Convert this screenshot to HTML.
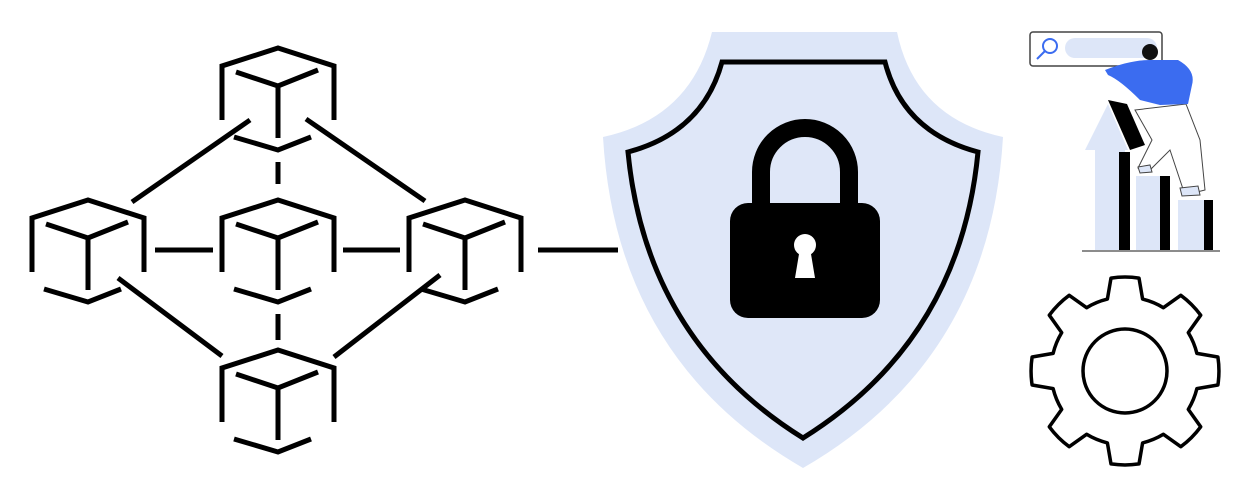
<!DOCTYPE html>
<html><head><meta charset="utf-8"><style>html,body{margin:0;padding:0;background:#fff}svg{display:block}</style></head>
<body>
<svg id="s" width="1250" height="500" viewBox="0 0 1250 500" xmlns="http://www.w3.org/2000/svg">
<defs>
<g id="cube" fill="none" stroke="#000" stroke-width="5" stroke-linejoin="miter">
<polyline points="-56,72 -56,18 0,0 56,18 56,72"/>
<polyline points="-42,24 0,38 40,22"/>
<line x1="0" y1="38" x2="0" y2="90"/>
<polyline points="-44,89 0,102 33,89"/>
</g>
</defs>
<use href="#cube" x="278" y="48"/>
<use href="#cube" x="88" y="200"/>
<use href="#cube" x="278" y="200"/>
<use href="#cube" x="465" y="200"/>
<use href="#cube" x="278" y="350"/>
<g stroke="#000" stroke-width="5" fill="none">
<line x1="132" y1="202" x2="250" y2="120"/>
<line x1="306" y1="119" x2="425" y2="201"/>
<line x1="118" y1="278" x2="222" y2="356"/>
<line x1="334" y1="357" x2="440" y2="275"/>
<line x1="155" y1="250" x2="213" y2="250"/>
<line x1="343" y1="250" x2="400" y2="250"/>
<line x1="538" y1="250" x2="618" y2="250"/>
<line x1="278" y1="162" x2="278" y2="184"/>
<line x1="278" y1="314" x2="278" y2="340"/>
</g>
<!-- shield -->
<path d="M712,32 L897,32 Q915,118 1003,137 Q990,360 803,468 Q616,360 603,137 Q691,118 712,32 Z" fill="#dde6f8"/>
<path d="M722,62 L885,62 Q903,132 978,152 Q960,340 803,438 Q646,340 628,152 Q703,132 722,62 Z" fill="#dfe7f8" stroke="#000" stroke-width="5"/>
<path d="M761,205 V172 A44,44 0 0 1 849,172 V205" fill="none" stroke="#000" stroke-width="18"/>
<rect x="730" y="203" width="150" height="115" rx="18" fill="#000"/>
<circle cx="805" cy="245" r="11" fill="#fff"/>
<path d="M800,248 L795,278 H815 L810,248 Z" fill="#fff"/>
<!-- person -->
<rect x="1030" y="32" width="132" height="34" rx="3" fill="#fff" stroke="#444" stroke-width="1.5"/>
<circle cx="1050" cy="46" r="7" fill="none" stroke="#3b6cf0" stroke-width="2"/>
<line x1="1045" y1="51" x2="1037" y2="59" stroke="#3b6cf0" stroke-width="2"/>
<rect x="1065" y="38" width="92" height="20" rx="10" fill="#dde6f8"/>
<path d="M1108,100 L1127,104 L1145,145 L1130,150 Z" fill="#000"/>
<path d="M1085,150 L1108,104 L1128,150 Z" fill="#dde6f8"/>
<rect x="1095" y="150" width="30" height="100" fill="#dde6f8"/>
<rect x="1119" y="152" width="11" height="98" fill="#000"/>
<rect x="1136" y="176" width="28" height="74" fill="#dde6f8"/>
<rect x="1160" y="176" width="10" height="74" fill="#000"/>
<rect x="1178" y="200" width="28" height="50" fill="#dde6f8"/>
<rect x="1204" y="200" width="9" height="50" fill="#000"/>
<line x1="1082" y1="251" x2="1220" y2="251" stroke="#666" stroke-width="1.5"/>
<path d="M1135,110 L1186,104 L1200,140 L1205,190 L1185,195 L1170,150 L1160,160 L1148,172 L1138,168 L1152,140 Z" fill="#fff" stroke="#444" stroke-width="1"/>
<path d="M1105,70 Q1130,60 1150,60 L1178,60 Q1196,70 1192,85 L1188,104 L1160,105 L1140,100 Q1120,80 1108,75 Z" fill="#3b6cf0"/>
<circle cx="1150" cy="52" r="8" fill="#111"/>
<path d="M1138,167 L1150,165 L1152,172 L1140,173 Z M1180,188 L1198,186 L1200,195 L1182,196 Z" fill="#dde6f8" stroke="#444" stroke-width="1"/>
<!-- gear -->
<path id="gear" fill="none" stroke="#000" stroke-width="3.5" stroke-linejoin="round"/>
<circle cx="1125" cy="371" r="42" fill="none" stroke="#000" stroke-width="3.5"/>
</svg>
<script>
(function(){var cx=1125,cy=371,ro=94,ri=74,n=8,d="";
for(var i=0;i<n;i++){var a=i*2*Math.PI/n,w=0.15,wi=0.24;
var pts=[[ri,a-wi],[ro,a-w],[ro,a+w],[ri,a+wi]];
pts.forEach(function(p,j){var x=cx+p[0]*Math.cos(p[1]),y=cy+p[0]*Math.sin(p[1]);
if(i==0&&j==0)d+="M"+x.toFixed(1)+","+y.toFixed(1);
else if(j==0)d+=" A"+ri+","+ri+" 0 0 1 "+x.toFixed(1)+","+y.toFixed(1);
else if(j==2)d+=" A"+ro+","+ro+" 0 0 1 "+x.toFixed(1)+","+y.toFixed(1);
else d+=" L"+x.toFixed(1)+","+y.toFixed(1);});}
var a0=-0.24,x0=cx+ri*Math.cos(a0),y0=cy+ri*Math.sin(a0);
d+=" A"+ri+","+ri+" 0 0 1 "+x0.toFixed(1)+","+y0.toFixed(1)+" Z";
document.getElementById("gear").setAttribute("d",d);})();
</script>
</body></html>
